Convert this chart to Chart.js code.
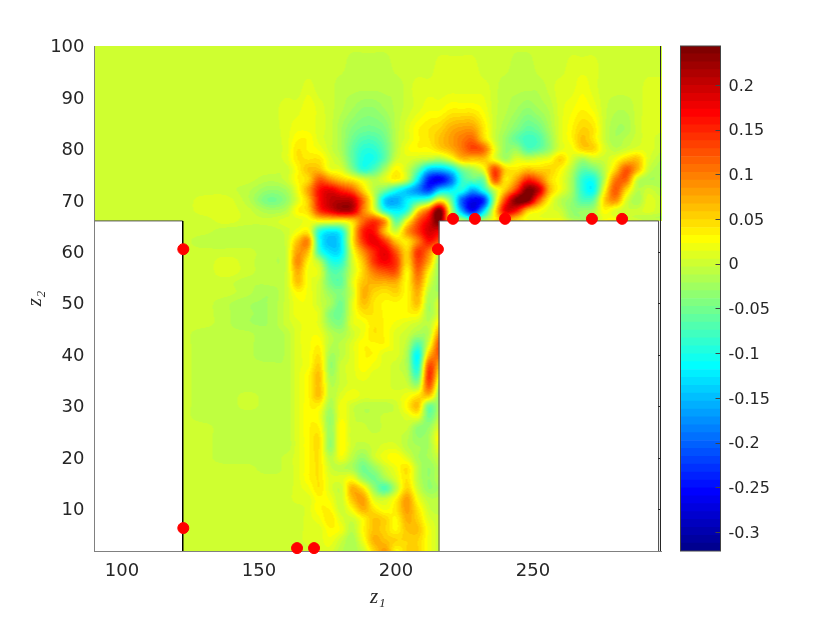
<!DOCTYPE html>
<html>
<head>
<meta charset="utf-8">
<style>
    html, body { margin: 0; padding: 0; background: #fff; }
    #wrap { position: relative; width: 830px; height: 619px; }
    canvas { position: absolute; left: 0; top: 0; }
</style>
<script src="https://cdn.jsdelivr.net/npm/chart.js@4/dist/chart.umd.min.js"></script>
</head>
<body>
<div id="wrap">
    <canvas id="fieldChart" width="830" height="619"></canvas>
    <canvas id="barChart" width="830" height="619"></canvas>
</div>
<script>
// axis ticks
const xTicks = [100, 150, 200, 250];
const yTicks = [10, 20, 30, 40, 50, 60, 70, 80, 90, 100];
const cbTicks = [-0.3, -0.25, -0.2, -0.15, -0.1, -0.05, 0, 0.05, 0.1, 0.15, 0.2];
const cbMin = -0.3213;
const cbMax = 0.2436;

// sample positions of the field
const z1Cols = [90, 106, 122, 130, 138, 146, 154, 160, 164, 168, 172, 176, 180, 184, 188, 192, 196, 200, 204, 208, 212, 216,
    220, 224, 228, 232, 236, 240, 244, 248, 252, 256, 260, 264, 268, 272, 276, 280, 284, 288, 292, 296];
const z2Rows = [2, 4, 6, 8, 10, 12, 14, 16, 18, 20, 22, 24, 26, 28, 30, 32, 34, 36, 38, 40, 42, 44, 46, 48, 50, 52, 54, 56, 58, 60, 62, 64,
    66, 68, 70, 72, 74, 76, 78, 80, 82, 84, 88, 92, 96, 100];

// field in hundredths, z2 = 2..64, only z1 = 122..216 (channel)
const lowRows = [
    [0,0,0,0,0,0,0,0,1,1,-1,-2,0,5,8,3,5,5,2,0],
    [0,0,0,0,0,0,0,1,1,2,0,-2,2,7,6,5,5,5,2,0],
    [0,0,0,0,0,0,0,1,1,3,2,-1,3,6,5,3,6,6,2,0],
    [0,0,0,0,0,0,0,1,2,4,1,0,3,6,5,3,7,5,1,0],
    [0,0,0,0,0,0,0,1,3,3,0,3,7,4,2,4,8,4,0,-1],
    [0,0,0,0,0,0,1,1,3,2,0,6,8,1,0,3,8,2,-1,-1],
    [0,0,0,0,0,0,1,2,4,1,0,7,4,-3,-7,-1,5,0,-3,-2],
    [0,0,0,0,0,0,1,3,4,1,1,2,-3,-5,-2,1,4,-1,-3,-1],
    [0,0,0,0,-1,0,1,3,4,0,-1,-2,-5,-3,0,2,4,-1,-3,-1],
    [0,0,-1,-1,-1,0,1,3,4,-1,2,-1,-3,0,2,3,1,-2,-2,0],
    [0,0,-1,-1,-1,-1,1,3,4,-3,3,0,-1,0,1,1,-1,-2,-2,2],
    [0,0,-1,-1,-1,-1,1,3,4,-3,3,0,0,0,0,0,-1,-3,-2,3],
    [0,0,-1,-1,-1,-1,1,3,3,-3,3,0,0,-1,0,0,0,-3,-3,1],
    [0,-1,-1,-1,-1,-1,1,3,2,-3,2,0,-1,-1,0,0,1,2,-5,-1],
    [0,-1,-1,0,-1,-1,1,3,3,-2,2,0,-1,-1,-1,0,3,6,-5,-2],
    [0,-1,-1,0,-1,-1,1,3,6,-1,1,2,1,1,1,1,2,4,6,-3],
    [0,-1,-1,-1,-1,-1,1,3,6,-1,0,1,1,1,1,0,0,-2,12,-1],
    [0,-1,-1,-1,-1,-1,1,3,6,-2,0,1,2,1,1,0,-1,-7,14,3],
    [0,-1,-1,-1,-1,-1,1,2,5,-3,0,1,3,2,1,0,-2,-10,12,7],
    [0,-1,-1,-1,-2,-1,1,2,4,-2,-1,1,3,3,1,1,-2,-11,6,12],
    [0,-1,-1,-1,-2,-1,1,2,3,-1,-1,1,3,3,3,1,-1,-7,1,13],
    [0,-1,-1,-1,-2,-1,1,2,2,-1,-2,0,2,4,3,1,0,-2,-1,9],
    [0,0,-1,-2,-2,0,1,2,1,-3,-4,1,2,4,3,2,1,0,-1,4],
    [0,0,-1,-2,-2,0,2,2,1,-4,-5,1,4,4,3,3,3,3,-2,1],
    [0,0,-1,-2,-2,0,2,2,0,-2,-5,1,6,4,3,3,3,6,-2,1],
    [0,0,0,-1,-2,0,3,2,0,-3,-4,0,7,5,4,5,3,7,-1,-2],
    [0,0,0,-1,-1,0,6,2,0,-5,-6,1,6,7,7,7,3,9,1,-3],
    [0,0,1,0,-1,0,7,2,1,-6,-6,0,5,10,12,12,3,11,3,-3],
    [0,0,1,0,-1,0,9,3,-1,-9,-9,0,6,14,17,14,5,13,7,-3],
    [0,0,0,0,-1,0,8,6,-8,-13,-12,1,9,15,18,12,5,14,10,0],
    [0,-1,-1,-1,-1,0,6,9,-10,-15,-12,3,14,18,14,6,4,10,16,12],
    [0,0,-1,-1,-1,0,2,3,-9,-12,-10,3,15,16,6,0,8,14,19,18]
];

// field in hundredths, z2 = 66..100, all z1
const highRows = [
    [0,0,0,0,1,0,0,1,1,2,3,3,3,5,11,14,8,-6,2,12,18,24,3,0,-4,0,4,8,5,3,3,3,3,0,-1,0,3,4,2,1,0,0],
    [0,0,0,1,1,0,-2,-1,3,5,14,18,21,20,10,2,-9,-12,-9,4,12,24,0,-16,-25,-14,3,18,16,6,3,1,0,-3,-3,-2,3,1,0,0,1,0],
    [0,0,0,1,1,-1,-5,-3,1,6,16,20,21,20,11,0,-14,-16,-12,-9,-6,3,-5,-20,-26,-23,-2,14,24,24,12,3,-1,-3,-7,-6,5,9,1,-2,1,0],
    [0,0,0,0,0,-1,-3,-2,2,8,16,18,15,12,5,-1,-5,-10,-14,-18,-22,-14,-12,-10,-16,-10,0,6,14,24,20,7,2,-2,-9,-11,2,12,5,-1,0,-1],
    [0,0,0,0,0,0,-1,0,3,5,12,9,6,4,1,-1,1,3,-1,-12,-24,-26,-20,-9,-6,-5,12,4,8,15,12,5,2,-2,-9,-10,-1,10,11,0,-2,-2],
    [0,0,0,0,0,0,0,0,3,6,6,2,1,-4,-9,-7,-2,3,0,-6,-14,-15,-12,-5,-2,2,13,5,4,6,5,5,3,-1,-6,-5,-1,5,12,7,0,-2],
    [0,0,0,0,0,0,0,1,4,4,4,1,-1,-6,-10,-10,-6,0,1,0,-1,-2,1,6,6,6,2,-2,1,0,1,2,5,1,-2,0,0,2,5,6,1,-1],
    [0,0,0,0,0,0,0,1,4,3,2,0,-2,-6,-9,-9,-6,-1,2,3,3,5,7,10,13,11,2,-3,-3,-7,-6,-3,1,2,5,5,1,-1,0,1,1,0],
    [0,0,0,0,0,0,0,1,3,3,1,0,-2,-5,-7,-7,-5,-1,1,3,4,6,8,10,11,5,0,-3,-6,-8,-7,-3,1,3,6,4,0,-2,-1,0,1,0],
    [0,0,0,0,0,0,0,1,2,2,1,0,-2,-4,-5,-5,-4,-1,1,3,4,5,7,8,8,4,0,-2,-4,-6,-5,-2,1,3,5,4,0,-2,-2,0,1,1],
    [0,0,0,0,0,0,0,1,1,2,1,0,-1,-2,-3,-3,-2,-1,0,1,2,2,3,3,3,2,0,-1,-2,-3,-2,-1,1,2,3,2,0,-1,-1,0,1,1],
    [0,0,0,0,0,0,0,0,0,1,0,0,-1,-1,-1,-1,-1,-1,0,1,1,1,1,1,1,1,0,-1,-1,-1,-1,0,1,1,2,1,0,0,0,0,1,1],
    [0,0,0,0,0,0,0,0,0,0,0,0,0,-1,-1,-1,-1,0,0,0,0,1,1,1,1,0,0,0,-1,-1,0,0,0,1,1,1,0,0,0,0,0,0],
    [0,0,0,0,0,0,0,0,0,0,0,0,0,0,0,0,0,0,0,0,0,0,0,0,0,0,0,0,0,0,0,0,0,0,0,0,0,0,0,0,0,0]
];

// red markers
const markerZ1 = [122.4, 122.4, 163.9, 170.1, 215.3, 220.8, 228.8, 239.8, 271.5, 282.5];
const markerZ2 = [60.5, 6.3, 2.4, 2.4, 60.5, 66.4, 66.4, 66.4, 66.4, 66.4];

// walls of the channel and cavity
const wallLeftZ1 = [122.2, 122.2];
const wallLeftZ2 = [1.84, 66];
const ledgeLeftZ1 = [90, 122.2];
const ledgeLeftZ2 = [66, 66];
const wallRightZ1 = [215.7, 215.7, 295.8, 295.8];
const wallRightZ2 = [1.84, 66, 66, 1.84];

// lower rows only cover z1 = 122..216, pad them to full width
const fieldRows = lowRows.map(r => [r[0], r[0], ...r, ...new Array(20).fill(r[r.length - 1])]).concat(highRows);

// MATLAB jet(64)
function jetRamp(k) {
    if (k < 1) return 0;
    if (k <= 16) return k / 16;
    if (k <= 31) return 1;
    if (k <= 47) return (48 - k) / 16;
    return 0;
}

function jetColor(i) {
    return [jetRamp(i - 24), jetRamp(i - 8), jetRamp(i + 8)].map(c => Math.round(c * 255));
}

function findCell(list, v) {
    let i = 0;
    while (i < list.length - 2 && list[i + 1] < v) i++;
    const f = (v - list[i]) / (list[i + 1] - list[i]);
    return [i, Math.max(0, Math.min(1, f))];
}

function hermite(values, list, i, f) {
    const a = Math.max(i - 1, 0);
    const d = Math.min(i + 2, list.length - 1);
    const h = list[i + 1] - list[i];
    const m1 = (values[i + 1] - values[a]) / (list[i + 1] - list[a]) * h;
    const m2 = (values[d] - values[i]) / (list[d] - list[i]) * h;
    const f2 = f * f;
    const f3 = f2 * f;
    return (2 * f3 - 3 * f2 + 1) * values[i] + (f3 - 2 * f2 + f) * m1 + (-2 * f3 + 3 * f2) * values[i + 1] + (f3 - f2) * m2;
}

function fieldValue(i, fx, j, fy) {
    const a = Math.max(j - 1, 0);
    const d = Math.min(j + 2, z2Rows.length - 1);
    const across = [];
    for (let r = a; r <= d; r++) {
        across[r] = hermite(fieldRows[r], z1Cols, i, fx);
    }
    return hermite(across, z2Rows, j, fy) / 100;
}

// contour bands behind the datasets, every pixel goes through the chart's scales
const fieldPlugin = {
    id: 'fieldPlugin',
    beforeDatasetsDraw(chart) {
        const { ctx, chartArea: area, scales } = chart;
        const w = Math.round(area.right - area.left);
        const h = Math.round(area.bottom - area.top);
        const off = document.createElement('canvas');
        off.width = w;
        off.height = h;
        const octx = off.getContext('2d');
        const img = octx.createImageData(w, h);
        for (let py = 0; py < h; py++) {
            const z2 = scales.y.getValueForPixel(area.top + py + 0.5);
            const [j, fy] = findCell(z2Rows, z2);
            for (let px = 0; px < w; px++) {
                const z1 = scales.x.getValueForPixel(area.left + px + 0.5);
                if (z2 < 66 && (z1 < 122.2 || z1 > 215.7)) continue;
                const [i, fx] = findCell(z1Cols, z1);
                const t = (fieldValue(i, fx, j, fy) - cbMin) / (cbMax - cbMin);
                const level = Math.max(1, Math.min(64, Math.floor(t * 64) + 1));
                const c = jetColor(level);
                const k = (py * w + px) * 4;
                img.data[k] = c[0];
                img.data[k + 1] = c[1];
                img.data[k + 2] = c[2];
                img.data[k + 3] = 255;
            }
        }
        octx.putImageData(img, 0, 0);
        ctx.drawImage(off, area.left, area.top);
    },
    afterDraw(chart) {
        const { ctx, chartArea: area, scales } = chart;
        ctx.save();
        ctx.strokeStyle = '#262626';
        ctx.lineWidth = 1;
        ctx.beginPath();
        ctx.moveTo(area.right - 0.5, area.top);
        ctx.lineTo(area.right - 0.5, area.bottom);
        yTicks.filter(v => v < 66).forEach(v => {
            const y = Math.round(scales.y.getPixelForValue(v)) + 0.5;
            ctx.moveTo(area.right - 3, y);
            ctx.lineTo(area.right, y);
        });
        ctx.stroke();
        ctx.restore();
    }
};

const cbPlugin = {
    id: 'cbPlugin',
    afterDraw(chart) {
        const { ctx, chartArea: area, scales } = chart;
        ctx.save();
        ctx.strokeStyle = '#444';
        ctx.lineWidth = 1;
        ctx.strokeRect(area.left, area.top, area.right - area.left, area.bottom - area.top);
        ctx.beginPath();
        cbTicks.forEach(v => {
            const y = Math.round(scales.y.getPixelForValue(v)) + 0.5;
            ctx.moveTo(area.right - 5, y);
            ctx.lineTo(area.right, y);
        });
        ctx.stroke();
        ctx.restore();
    }
};

function toPoints(xs, ys) {
    return xs.map((x, i) => ({ x: x, y: ys[i] }));
}

function wallDataset(xs, ys, color, width) {
    return {
        type: 'line',
        data: toPoints(xs, ys),
        borderColor: color,
        borderWidth: width,
        pointRadius: 0,
        fill: false,
        tension: 0,
        order: 2
    };
}

new Chart(document.getElementById('fieldChart'), {
    type: 'scatter',
    plugins: [fieldPlugin],
    data: {
        datasets: [
            {
                data: toPoints(markerZ1, markerZ2),
                backgroundColor: '#ff0000',
                borderColor: '#ff0000',
                pointRadius: 5.5,
                order: 1,
                clip: false
            },
            wallDataset(wallLeftZ1, wallLeftZ2, '#000', 1.5),
            wallDataset(ledgeLeftZ1, ledgeLeftZ2, '#555', 1),
            wallDataset(wallRightZ1, wallRightZ2, '#555', 1)
        ]
    },
    options: {
        responsive: false,
        animation: false,
        events: [],
        layout: { padding: { top: 46, right: 169 } },
        plugins: { legend: { display: false }, tooltip: { enabled: false } },
        scales: {
            x: {
                type: 'linear',
                min: 90,
                max: 296.7,
                afterBuildTicks: axis => { axis.ticks = xTicks.map(v => ({ value: v })); },
                afterFit: axis => { axis.height = 68; },
                grid: { display: false, drawTicks: false },
                border: { color: '#808080' },
                ticks: {
                    padding: 10,
                    color: '#262626',
                    maxRotation: 0,
                    autoSkip: false,
                    font: { family: 'DejaVu Sans', size: 18 }
                },
                title: {
                    display: true,
                    text: 'z₁',
                    color: '#262626',
                    padding: { top: 0, bottom: 9 },
                    font: { family: 'Liberation Serif', style: 'italic', size: 21 }
                }
            },
            y: {
                type: 'linear',
                min: 1.84,
                max: 100,
                afterBuildTicks: axis => { axis.ticks = yTicks.map(v => ({ value: v })); },
                afterFit: axis => { axis.width = 94.5; },
                grid: { display: false, drawTicks: false },
                border: { color: '#808080' },
                ticks: {
                    padding: 10,
                    labelOffset: 1.5,
                    color: '#262626',
                    autoSkip: false,
                    font: { family: 'DejaVu Sans', size: 18 }
                },
                title: {
                    display: true,
                    text: 'z₂',
                    color: '#262626',
                    padding: { top: 23, bottom: 0 },
                    font: { family: 'Liberation Serif', style: 'italic', size: 21 }
                }
            }
        }
    }
});

// colour bar: 64 floating bars, one per colour level
const cbDatasets = [];
for (let i = 1; i <= 64; i++) {
    const c = jetColor(i);
    const lo = cbMin + (cbMax - cbMin) * (i - 1) / 64;
    const hi = cbMin + (cbMax - cbMin) * i / 64;
    cbDatasets.push({
        data: [[lo, hi]],
        backgroundColor: `rgb(${c[0]}, ${c[1]}, ${c[2]})`,
        borderWidth: 0,
        grouped: false,
        barPercentage: 1,
        categoryPercentage: 1
    });
}

new Chart(document.getElementById('barChart'), {
    type: 'bar',
    plugins: [cbPlugin],
    data: { labels: [''], datasets: cbDatasets },
    options: {
        responsive: false,
        animation: false,
        events: [],
        layout: { padding: { top: 46, bottom: 68, left: 680.5 } },
        plugins: { legend: { display: false }, tooltip: { enabled: false } },
        scales: {
            x: { display: false },
            y: {
                position: 'right',
                min: cbMin,
                max: cbMax,
                afterBuildTicks: axis => { axis.ticks = cbTicks.map(v => ({ value: v })); },
                afterFit: axis => { axis.width = 109.5; },
                grid: { display: false, drawTicks: false },
                border: { display: false },
                ticks: {
                    padding: 8,
                    labelOffset: 1.5,
                    color: '#262626',
                    autoSkip: false,
                    callback: v => String(v),
                    font: { family: 'DejaVu Sans', size: 16 }
                }
            }
        }
    }
});
</script>
</body>
</html>
